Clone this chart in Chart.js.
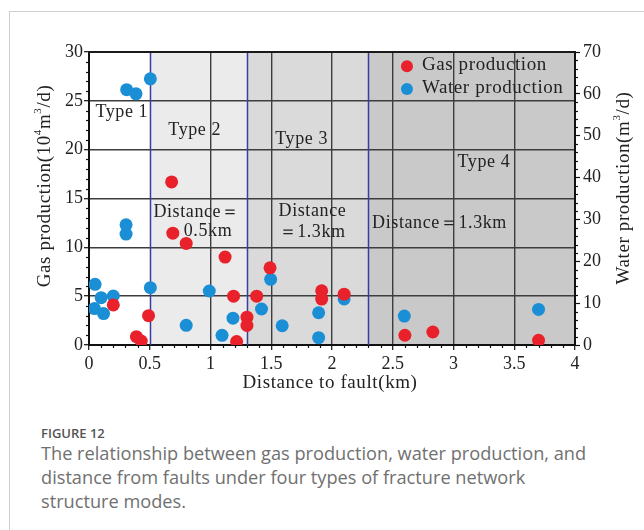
<!DOCTYPE html>
<html>
<head>
<meta charset="utf-8">
<script src="https://cdn.jsdelivr.net/npm/chart.js@4/dist/chart.umd.min.js"></script>
<style>
  body { margin: 0; background: #fff; }
  #page { position: relative; width: 644px; height: 530px; overflow: hidden; }
  #frame { position: absolute; left: 9px; top: 11px; width: 700px; height: 600px;
           border-left: 1px solid #cfcfcf; border-top: 1px solid #cfcfcf; }
  #chart { position: absolute; left: 0; top: 0; }
  #figno { position: absolute; left: 41px; top: 424px; font: 600 13px 'Open Sans', sans-serif; color: #555; }
  #caption { position: absolute; left: 41px; top: 441px; width: 600px;
             font: 400 18.2px/24px 'Open Sans', sans-serif; color: #707070; }
</style>
</head>
<body>
<div id="page">
  <div id="frame"></div>
  <canvas id="chart" width="644" height="410"></canvas>
  <div id="figno">FIGURE 12</div>
  <div id="caption">The relationship between gas production, water production, and<br>distance from faults under four types of fracture network<br>structure modes.</div>
</div>
<script>
// distance to fault (km) and gas production (10^4 m3/d)
var gasDistance = [0.2, 0.49, 0.39, 0.43, 0.69, 0.8, 0.68, 1.12, 1.19, 1.215, 1.3, 1.3, 1.38, 1.49, 1.915, 1.915, 2.1, 2.6, 2.83, 3.7];
var gasRate     = [4.1, 3.0, 0.85, 0.4, 11.45, 10.4, 16.7, 9.0, 5.0, 0.35, 2.85, 2.0, 5.0, 7.9, 5.55, 4.7, 5.2, 1.0, 1.33, 0.48];

// distance to fault (km) and water production (m3/d)
var waterDistance = [0.31, 0.387, 0.505, 0.05, 0.045, 0.1, 0.12, 0.2, 0.305, 0.305, 0.505, 0.8, 0.99, 1.095, 1.185, 1.42, 1.495, 1.59, 1.89, 1.89, 2.1, 2.595, 3.7];
var waterRate     = [61.0, 60.0, 63.6, 14.5, 8.7, 11.3, 7.5, 11.7, 28.7, 26.5, 13.7, 4.7, 12.9, 2.3, 6.4, 8.6, 15.7, 4.6, 7.7, 1.75, 11.0, 6.9, 8.5];

// fracture network zones along the distance axis
var zoneBounds = [0.5, 1.3, 2.3];
var zoneFills  = ['#ebebeb', '#dadada', '#c9c9c9'];

var SERIF = "'Liberation Serif', 'Times New Roman', serif";
var INK = '#222';

function toPoints(xs, ys) {
  return xs.map(function(x, i) { return { x: x, y: ys[i] }; });
}

function gridColor(lo, hi, skip) {
  return function(ctx) {
    var v = ctx.tick && ctx.tick.value;
    if (v <= lo || v >= hi) return 'rgba(0,0,0,0)';
    if (skip && skip.indexOf(v) >= 0) return 'rgba(0,0,0,0)';
    return '#3d3d3d';
  };
}

// text drawn with superscript pieces
function drawRich(ctx, parts, size) {
  var total = 0;
  parts.forEach(function(p) {
    ctx.font = (p.sup ? Math.round(size * 0.6) : size) + 'px ' + SERIF;
    p.w = ctx.measureText(p.t).width;
    total += p.w;
  });
  var x = -total / 2;
  parts.forEach(function(p) {
    ctx.font = (p.sup ? Math.round(size * 0.6) : size) + 'px ' + SERIF;
    ctx.fillText(p.t, x, p.sup ? -size * 0.38 : 0);
    x += p.w;
  });
}

var zonePlugin = {
  id: 'zones',
  beforeDraw: function(chart) {
    var ctx = chart.ctx, a = chart.chartArea, xs = chart.scales.x;
    ctx.save();
    for (var i = 0; i < zoneBounds.length; i++) {
      var x0 = xs.getPixelForValue(zoneBounds[i]);
      var x1 = i + 1 < zoneBounds.length ? xs.getPixelForValue(zoneBounds[i + 1]) : a.right;
      ctx.fillStyle = zoneFills[i];
      ctx.fillRect(x0, a.top, x1 - x0, a.bottom - a.top);
    }
    ctx.restore();
  },
  beforeDatasetsDraw: function(chart) {
    var ctx = chart.ctx, a = chart.chartArea, xs = chart.scales.x;
    ctx.save();
    ctx.strokeStyle = '#3a3d9e';
    ctx.lineWidth = 1.5;
    zoneBounds.forEach(function(b) {
      var px = Math.round(xs.getPixelForValue(b)) + 0.5;
      ctx.beginPath();
      ctx.moveTo(px, a.top);
      ctx.lineTo(px, a.bottom);
      ctx.stroke();
    });
    // top frame line
    ctx.strokeStyle = '#1a1a1a';
    ctx.lineWidth = 2;
    ctx.beginPath();
    ctx.moveTo(a.left - 1, a.top);
    ctx.lineTo(a.right + 1, a.top);
    ctx.stroke();
    ctx.restore();
  }
};

var notePlugin = {
  id: 'notes',
  afterDatasetsDraw: function(chart) {
    var ctx = chart.ctx, xs = chart.scales.x, ys = chart.scales.y;
    var notes = [
      ['Type 1', 0.27, 23.8, 'center'],
      ['Type 2', 0.87, 22.0, 'center'],
      ['Type 3', 1.75, 21.05, 'center'],
      ['Type 4', 3.25, 18.7, 'center'],
      ['Distance\uFF1D', 0.53, 13.55, 'left'],
      ['0.5km', 0.78, 11.6, 'left'],
      ['Distance', 1.56, 13.65, 'left'],
      ['\uFF1D1.3km', 1.56, 11.5, 'left'],
      ['Distance\uFF1D1.3km', 2.33, 12.5, 'left']
    ];
    ctx.save();
    ctx.fillStyle = INK;
    ctx.textBaseline = 'middle';
    ctx.letterSpacing = '0.6px';
    ctx.font = '18px ' + SERIF;
    notes.forEach(function(n) {
      ctx.textAlign = n[3];
      ctx.fillText(n[0], xs.getPixelForValue(n[1]), ys.getPixelForValue(n[2]));
    });

    // legend
    var legend = [['Gas production', '#e8212b', 28.55], ['Water production', '#1b8fd6', 26.2]];
    ctx.font = '19px ' + SERIF;
    ctx.textAlign = 'left';
    legend.forEach(function(l) {
      var py = ys.getPixelForValue(l[2]);
      ctx.fillStyle = l[1];
      ctx.beginPath();
      ctx.arc(xs.getPixelForValue(2.617), py, 6, 0, Math.PI * 2);
      ctx.fill();
      ctx.fillStyle = INK;
      ctx.fillText(l[0], xs.getPixelForValue(2.74), py - 1);
    });
    ctx.restore();
  },
  afterDraw: function(chart) {
    var ctx = chart.ctx, a = chart.chartArea, s = chart.scales;
    ctx.save();
    ctx.strokeStyle = '#111';
    ctx.lineWidth = 1.2;
    // minor ticks
    var v, p;
    for (v = 1; v < 40; v++) {
      if (v % 5 === 0) continue;
      p = Math.round(s.x.getPixelForValue(v / 10)) + 0.5;
      ctx.beginPath(); ctx.moveTo(p, a.bottom); ctx.lineTo(p, a.bottom + 3); ctx.stroke();
    }
    for (v = 1; v < 30; v++) {
      if (v % 5 === 0) continue;
      p = Math.round(s.y.getPixelForValue(v)) + 0.5;
      ctx.beginPath(); ctx.moveTo(a.left - 3, p); ctx.lineTo(a.left, p); ctx.stroke();
    }
    for (v = 2; v < 70; v += 2) {
      if (v % 10 === 0) continue;
      p = Math.round(s.y1.getPixelForValue(v)) + 0.5;
      ctx.beginPath(); ctx.moveTo(a.right, p); ctx.lineTo(a.right + 3, p); ctx.stroke();
    }

    // axis titles
    ctx.fillStyle = INK;
    ctx.textBaseline = 'middle';
    ctx.textAlign = 'left';
    ctx.letterSpacing = '0.6px';
    ctx.save();
    ctx.translate(45, 186);
    ctx.rotate(-Math.PI / 2);
    drawRich(ctx, [{ t: 'Gas production(10' }, { t: '4', sup: true }, { t: 'm' }, { t: '3', sup: true }, { t: '/d)' }], 19);
    ctx.restore();
    ctx.save();
    ctx.translate(624, 188);
    ctx.rotate(-Math.PI / 2);
    drawRich(ctx, [{ t: 'Water production(m' }, { t: '3', sup: true }, { t: '/d)' }], 19);
    ctx.restore();
    ctx.save();
    ctx.translate(330, 383);
    drawRich(ctx, [{ t: 'Distance to fault(km)' }], 19);
    ctx.restore();
    ctx.restore();
  }
};

new Chart(document.getElementById('chart'), {
  type: 'scatter',
  data: {
    datasets: [{
      label: 'Gas production',
      data: toPoints(gasDistance, gasRate),
      yAxisID: 'y',
      backgroundColor: '#e8212b',
      borderWidth: 0,
      pointRadius: 6.5,
      pointHoverRadius: 6.5
    }, {
      label: 'Water production',
      data: toPoints(waterDistance, waterRate),
      yAxisID: 'y1',
      backgroundColor: '#1b8fd6',
      borderWidth: 0,
      pointRadius: 6.5,
      pointHoverRadius: 6.5
    }]
  },
  options: {
    responsive: false,
    animation: false,
    devicePixelRatio: 1,
    layout: { padding: { top: 52, left: 0, right: 0, bottom: 0 } },
    plugins: {
      legend: { display: false },
      tooltip: { enabled: false }
    },
    scales: {
      x: {
        type: 'linear',
        min: 0,
        max: 4,
        ticks: {
          stepSize: 0.5, padding: 3, color: INK, font: { family: SERIF, size: 18 },
          callback: function(v) { return String(v); }
        },
        grid: { color: gridColor(0, 4, [0.5]), lineWidth: 1.4, tickColor: '#111', tickLength: 5, tickWidth: 1.2 },
        border: { display: true, color: '#111', width: 2 },
        afterFit: function(scale) { scale.height = 65; }
      },
      y: {
        position: 'left',
        min: 0,
        max: 30,
        ticks: { stepSize: 5, padding: 1, color: INK, font: { family: SERIF, size: 18 } },
        grid: { color: gridColor(0, 30), lineWidth: 1.4, tickColor: '#111', tickLength: 5, tickWidth: 1.2 },
        border: { display: true, color: '#111', width: 2 },
        afterFit: function(scale) { scale.width = 89; }
      },
      y1: {
        position: 'right',
        min: 0,
        max: 70,
        ticks: { stepSize: 10, padding: 3, color: INK, font: { family: SERIF, size: 18 } },
        grid: { drawOnChartArea: false, tickColor: '#111', tickLength: 5, tickWidth: 1.2 },
        border: { display: true, color: '#111', width: 2 },
        afterFit: function(scale) { scale.width = 69; }
      }
    }
  },
  plugins: [zonePlugin, notePlugin]
});
</script>
</body>
</html>
